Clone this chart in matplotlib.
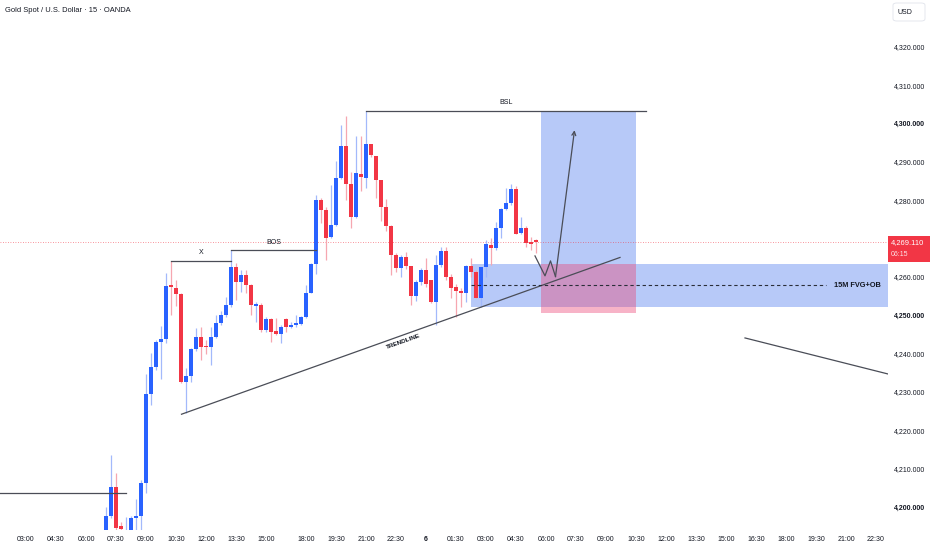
import matplotlib
matplotlib.use("Agg")
import matplotlib.pyplot as plt
from matplotlib.patches import Rectangle, FancyBboxPatch
import numpy as np

plt.rcParams['font.family'] = ['Liberation Sans', 'DejaVu Sans']

# ---------------- data ----------------
first_bar = 16
opens = [4193.0, 4197.6, 4205.3, 4195.0, 4190.0, 4193.5, 4197.1, 4197.6, 4206.2, 4229.4,
         4236.4, 4243.0, 4243.8, 4257.9, 4257.2, 4255.6, 4232.7, 4234.2, 4241.1, 4244.4,
         4242.1, 4241.7, 4244.4, 4247.9, 4250.1, 4252.7, 4262.7, 4258.8, 4260.5, 4257.9,
         4252.5, 4252.7, 4246.3, 4249.0, 4245.9, 4245.1, 4249.0, 4247.0, 4247.5, 4247.8,
         4249.6, 4255.9, 4263.3, 4280.1, 4277.6, 4270.5, 4273.6, 4285.7, 4294.3, 4284.2,
         4275.6, 4286.9, 4285.7, 4294.6, 4291.6, 4285.3, 4278.2, 4273.4, 4265.7, 4262.3,
         4265.3, 4262.9, 4255.0, 4258.8, 4261.8, 4259.2, 4253.6, 4263.1, 4266.8, 4259.9,
         4257.3, 4256.4, 4255.7, 4262.9, 4261.4, 4254.6, 4262.5, 4268.4, 4267.5, 4272.9,
         4277.7, 4279.2, 4282.9, 4271.4, 4272.7, 4269.2, 4269.6]
highs = [4200.1, 4213.6, 4208.9, 4196.0, 4197.3, 4197.6, 4202.2, 4207.0, 4234.7, 4240.2,
         4243.5, 4247.2, 4261.0, 4264.3, 4259.2, 4255.8, 4236.2, 4241.4, 4246.6, 4247.0,
         4243.5, 4247.0, 4250.1, 4251.0, 4254.9, 4267.0, 4263.6, 4261.8, 4261.8, 4258.3,
         4253.5, 4253.1, 4249.5, 4249.2, 4249.2, 4247.5, 4249.2, 4248.3, 4250.1, 4249.8,
         4257.9, 4263.6, 4281.4, 4280.5, 4278.3, 4284.0, 4290.3, 4299.6, 4302.0, 4287.5,
         4296.8, 4296.8, 4303.3, 4294.6, 4291.6, 4285.3, 4280.3, 4273.6, 4266.2, 4265.7,
         4266.6, 4262.9, 4259.2, 4262.4, 4264.9, 4259.2, 4265.7, 4267.9, 4267.9, 4260.9,
         4258.3, 4257.0, 4263.1, 4264.9, 4261.8, 4262.5, 4269.7, 4270.3, 4274.4, 4278.0,
         4283.3, 4284.2, 4283.7, 4275.7, 4273.4, 4270.5, 4269.8]
lows = [4191.0, 4197.0, 4193.8, 4193.0, 4189.0, 4192.0, 4193.5, 4193.8, 4203.6, 4226.6,
        4235.8, 4233.3, 4242.7, 4250.1, 4252.5, 4232.3, 4224.4, 4232.7, 4240.8, 4238.3,
        4240.0, 4237.0, 4244.0, 4247.5, 4249.6, 4252.3, 4254.0, 4256.2, 4255.7, 4250.1,
        4248.3, 4245.7, 4245.7, 4243.1, 4244.8, 4242.9, 4245.7, 4246.8, 4247.0, 4247.5,
        4249.4, 4255.7, 4260.9, 4274.0, 4264.4, 4270.3, 4273.3, 4285.5, 4280.1, 4272.7,
        4275.3, 4282.5, 4283.1, 4291.4, 4280.5, 4274.7, 4272.0, 4260.5, 4261.4, 4260.1,
        4262.0, 4252.7, 4253.8, 4257.9, 4257.5, 4253.1, 4247.5, 4262.7, 4259.2, 4254.4,
        4249.6, 4252.3, 4253.6, 4260.1, 4254.4, 4252.3, 4260.1, 4263.0, 4267.0, 4270.1,
        4277.5, 4278.8, 4271.1, 4271.1, 4267.9, 4267.0, 4266.2]
closes = [4197.6, 4205.3, 4194.4, 4194.3, 4193.5, 4197.0, 4197.6, 4206.2, 4229.4, 4236.4,
          4243.1, 4243.8, 4257.7, 4257.3, 4255.6, 4232.7, 4234.2, 4241.1, 4244.3, 4241.8,
          4241.7, 4244.4, 4247.9, 4250.1, 4252.7, 4262.7, 4258.8, 4260.5, 4257.9, 4252.7,
          4252.9, 4246.3, 4249.0, 4245.7, 4245.1, 4247.0, 4247.0, 4247.6, 4247.9, 4249.6,
          4255.9, 4263.3, 4280.1, 4277.6, 4270.3, 4273.6, 4285.7, 4294.3, 4284.2, 4275.6,
          4287.0, 4286.0, 4294.6, 4291.8, 4285.3, 4278.2, 4273.4, 4265.7, 4262.3, 4265.3,
          4262.9, 4255.0, 4258.8, 4261.8, 4258.3, 4253.6, 4263.1, 4266.8, 4259.9, 4257.0,
          4256.4, 4255.7, 4262.9, 4261.4, 4254.6, 4262.5, 4268.6, 4267.5, 4272.9, 4277.7,
          4279.2, 4282.9, 4271.1, 4272.7, 4268.8, 4268.7, 4269.11]

tick_pos = [0, 6, 12, 18, 24, 30, 36, 42, 48, 56, 62, 68, 74, 80, 86, 92, 98, 104, 110,
            116, 122, 128, 134, 140, 146, 152, 158, 164, 170]
tick_labels = ["03:00", "04:30", "06:00", "07:30", "09:00", "10:30", "12:00", "13:30",
               "15:00", "18:00", "19:30", "21:00", "22:30", "6", "01:30", "03:00", "04:30",
               "06:00", "07:30", "09:00", "10:30", "12:00", "13:30", "15:00", "16:30",
               "18:00", "19:30", "21:00", "22:30"]
price_ticks = list(range(4200, 4330, 10))
hidden_tick = 4270  # covered by the last-price label

last_price = 4269.11
last_time = "06:15"

# annotation levels
x_level = (29, 41, 4264.3)
bos_level = (41, 58, 4267.0)
bsl_level = (68, 124, 4303.3)
left_level = (-6, 20, 4203.6)
trend_x = [31.1, 118.8]
trend_y = [4224.2, 4265.1]
right_line_x = [143.8, 172.4]
right_line_y = [4244.1, 4234.7]
fvg_left, fvg_right, fvg_bottom, fvg_top, fvg_mid = 88.9, 175, 4252.1, 4263.3, 4257.9
fvg_mid_end = 160
pos_left, pos_right, pos_entry, pos_tp, pos_sl = 102.9, 121.9, 4263.4, 4303.1, 4250.5
path_x = [101.8, 103.8, 104.9, 105.9]
path_y = [4265.5, 4260.3, 4264.2, 4260.1]
arrow_tip = (109.7, 4298.3)

# ---------------- figure ----------------
W, H = 932, 550
fig = plt.figure(figsize=(W / 100, H / 100), dpi=100)
ax = fig.add_axes([0, 20 / H, 888 / W, 530 / H])
ax.set_xlim(-5.2, 172.4)
ax.set_ylim(4194.0, 4332.26)
for s in ax.spines.values():
    s.set_visible(False)

TXT = '#131722'
LINE = '#4a4d57'
BLUE = '#2962ff'
RED = '#f23645'
BLUE_W = '#a3b9fb'
RED_W = '#f6a7b0'
BOX_BLUE = '#b7c9f8'

# FVG + OB zone
ax.add_patch(Rectangle((fvg_left, fvg_bottom), fvg_right - fvg_left, fvg_top - fvg_bottom,
                       facecolor=BOX_BLUE, edgecolor='none', zorder=1))
# long position tool
ax.add_patch(Rectangle((pos_left, pos_entry), pos_right - pos_left, pos_tp - pos_entry,
                       facecolor=BOX_BLUE, edgecolor='none', zorder=1))
ax.add_patch(Rectangle((pos_left, pos_sl), pos_right - pos_left, pos_entry - pos_sl,
                       facecolor='#eb4375', alpha=0.4, edgecolor='none', zorder=1.5))

# current price line
ax.axhline(last_price, color=RED, lw=0.6, ls=(0, (1, 2)), alpha=0.7, zorder=1.6)

# candles
idx = np.arange(first_bar, first_bar + len(opens))
o = np.array(opens); h = np.array(highs); l = np.array(lows); c = np.array(closes)
up = c >= o
ax.vlines(idx[up], l[up], h[up], color=BLUE_W, lw=0.9, zorder=2)
ax.vlines(idx[~up], l[~up], h[~up], color=RED_W, lw=0.9, zorder=2)
body_b = np.minimum(o, c)
body_h = np.maximum(np.abs(c - o), 0.35)
ax.bar(idx[up], body_h[up], bottom=body_b[up], width=0.62, color=BLUE, zorder=3, linewidth=0)
ax.bar(idx[~up], body_h[~up], bottom=body_b[~up], width=0.62, color=RED, zorder=3, linewidth=0)

# horizontal levels
for (x0, x1, y) in (x_level, bos_level, bsl_level, left_level):
    ax.plot([x0, x1], [y, y], color=LINE, lw=0.9, zorder=4)
ax.text((x_level[0] + x_level[1]) / 2, x_level[2] + 1.2, "X", fontsize=5, color=TXT,
        ha='center', va='bottom', zorder=5)
ax.text((bos_level[0] + bos_level[1]) / 2, bos_level[2] + 1.2, "BOS", fontsize=5, color=TXT,
        ha='center', va='bottom', zorder=5)
ax.text((bsl_level[0] + bsl_level[1]) / 2, bsl_level[2] + 1.2, "BSL", fontsize=5, color=TXT,
        ha='center', va='bottom', zorder=5)

# trendline
ax.plot(trend_x, trend_y, color=LINE, lw=0.9, zorder=4)
p0 = ax.transData.transform((trend_x[0], trend_y[0]))
p1 = ax.transData.transform((trend_x[1], trend_y[1]))
ang = np.degrees(np.arctan2(p1[1] - p0[1], p1[0] - p0[0]))
tx = 75.3
ty = trend_y[0] + (tx - trend_x[0]) * (trend_y[1] - trend_y[0]) / (trend_x[1] - trend_x[0])
ax.text(tx, ty - 1.0, "TRENDLINE", fontsize=4.6, color=TXT, fontweight='bold',
        rotation=ang, rotation_mode='anchor', ha='center', va='top', zorder=5)

# right line
ax.plot(right_line_x, right_line_y, color=LINE, lw=0.9, zorder=4)

# FVG mid dashed line + label
ax.plot([fvg_left, fvg_mid_end], [fvg_mid, fvg_mid], color='#2a2e39', lw=0.8,
        ls=(0, (3, 2.5)), zorder=4)
ax.text(171, fvg_mid, "15M FVG+OB", fontsize=5.3, color=TXT, fontweight='bold',
        ha='right', va='center', zorder=5)

# projection path
ax.plot(path_x, path_y, color=LINE, lw=0.9, zorder=4)
ax.annotate("", xy=arrow_tip, xytext=(path_x[-1], path_y[-1]),
            arrowprops=dict(arrowstyle='->', color=LINE, lw=0.9, mutation_scale=7,
                            shrinkA=0, shrinkB=0), zorder=4)

# axes ticks
ax.set_xticks(tick_pos)
ax.set_xticklabels(tick_labels)
ax.tick_params(axis='x', length=0, pad=4, labelsize=5, labelcolor=TXT)
for lab in ax.get_xticklabels():
    if lab.get_text() == "6":
        lab.set_fontweight('bold')
ax.yaxis.tick_right()
ax.set_yticks(price_ticks)
ax.set_yticklabels(["" if p == hidden_tick else f"{p:,.3f}" for p in price_ticks])
ax.tick_params(axis='y', length=0, pad=4.3, labelsize=5, labelcolor=TXT)
for lab, p in zip(ax.get_yticklabels(), price_ticks):
    if p % 50 == 0:
        lab.set_fontweight('bold')

# title
fig.text(5 / W, 1 - 11 / H, "Gold Spot / U.S. Dollar · 15 · OANDA", fontsize=5.4,
         color=TXT, ha='left', va='center')

# last price label
fig.add_artist(Rectangle((888 / W, 1 - 262 / H), 42 / W, 26 / H, transform=fig.transFigure,
                         facecolor=RED, edgecolor='none', zorder=10))
fig.text(891 / W, 1 - 243 / H, f"{last_price:,.3f}", fontsize=5.4, color='white',
         ha='left', va='center', zorder=11)
fig.text(891 / W, 1 - 254.5 / H, last_time, fontsize=5, color='#fde3e6',
         ha='left', va='center', zorder=11)

# currency box
fig.add_artist(FancyBboxPatch((893 / W, 1 - 21 / H), 32 / W, 18 / H,
                              boxstyle="round,pad=0,rounding_size=0.004",
                              transform=fig.transFigure, facecolor='white',
                              edgecolor='#e0e3eb', lw=0.6, zorder=10))
fig.text(898 / W, 1 - 12 / H, "USD", fontsize=5, color=TXT, ha='left', va='center', zorder=11)

fig.savefig("out.png", dpi=100, facecolor='white')
